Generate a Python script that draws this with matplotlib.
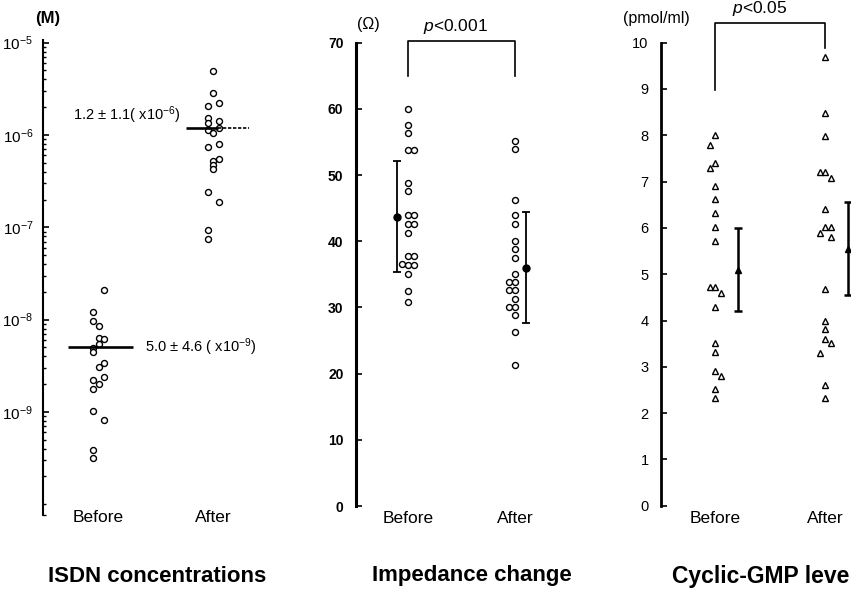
import matplotlib
matplotlib.use("Agg")
import matplotlib.pyplot as plt
import numpy as np
from matplotlib.ticker import FixedLocator, NullFormatter

plt.rcParams['font.family'] = ['Liberation Sans', 'DejaVu Sans']
plt.rcParams['mathtext.fontset'] = 'custom'
plt.rcParams['mathtext.rm'] = 'Liberation Sans'
plt.rcParams['mathtext.it'] = 'Liberation Sans:italic'
plt.rcParams['mathtext.bf'] = 'Liberation Sans:bold'
plt.rcParams['mathtext.default'] = 'regular'

# ---------------- data ----------------
groups = ["Before", "After"]
titles = ["ISDN concentrations", "Impedance change", "Cyclic-GMP leve"]
units = ["(M)", "(\u03a9)", "(pmol/ml)"]

isdn_before = [2.1e-8, 1.22e-8, 9.6e-9, 8.6e-9, 6.4e-9, 6.1e-9, 5.4e-9, 4.9e-9, 4.5e-9,
               3.4e-9, 3.1e-9, 2.4e-9, 2.2e-9, 2.0e-9, 1.78e-9, 1.03e-9, 8.1e-10, 3.9e-10, 3.2e-10]
isdn_after = [4.95e-6, 2.88e-6, 2.22e-6, 2.07e-6, 1.54e-6, 1.43e-6, 1.36e-6, 1.18e-6, 1.14e-6,
              1.06e-6, 7.9e-7, 7.5e-7, 5.5e-7, 5.2e-7, 4.7e-7, 4.25e-7, 2.4e-7, 1.9e-7, 9.3e-8, 7.5e-8]
isdn_mean = [5.0e-9, 1.2e-6]
isdn_labels = ["5.0 \u00b1 4.6 ( x10$^{-9}$)", "1.2 \u00b1 1.1( x10$^{-6}$)"]
isdn_major = [1e-9, 1e-8, 1e-7, 1e-6, 1e-5]
isdn_ticklabels = ["$10^{-9}$", "$10^{-8}$", "$10^{-7}$", "$10^{-6}$", "$10^{-5}$"]

imp_before = [60.0, 57.6, 56.4, 53.8, 53.8, 48.8, 47.6, 44.0, 44.0, 42.6, 42.6, 41.3,
              37.8, 37.8, 36.6, 36.4, 36.4, 35.0, 32.5, 30.8]
imp_after = [55.2, 54.0, 46.2, 43.9, 42.6, 40.0, 38.8, 37.5, 35.0, 33.9, 33.9, 32.6, 32.6,
             31.3, 30.1, 30.1, 28.9, 26.3, 21.3]
imp_mean = [43.7, 36.0]
imp_sd = [8.4, 8.35]
imp_p = "$\\it{p}$<0.001"

cgmp_before = [8.01, 7.79, 7.40, 7.29, 6.91, 6.62, 6.32, 6.01, 5.71, 4.72, 4.72, 4.60, 4.30,
               3.51, 3.31, 2.92, 2.80, 2.51, 2.32]
cgmp_after = [9.70, 8.48, 7.98, 7.20, 7.20, 7.07, 6.40, 6.02, 6.02, 5.89, 5.80, 4.69, 4.00,
              3.81, 3.59, 3.51, 3.29, 2.61, 2.32]
cgmp_mean = [5.1, 5.55]
cgmp_sd = [0.9, 1.0]
cgmp_p = "$\\it{p}$<0.05"

# ---------------- layout (jitter columns, not data) ----------------
isdn_before_cols = [1, -1, -1, 0, 0, 1, 0, -1, -1, 1, 0, 1, -1, 0, -1, -1, 1, -1, -1]
isdn_after_cols = [0, 0, 1, -1, -1, 1, -1, 1, -1, 0, 1, -1, 1, 0, 0, 0, -1, 1, -1, -1]
imp_before_cols = [0, 0, 0, 0, 1, 0, 0, 0, 1, 0, 1, 0, 0, 1, -1, 0, 1, 0, 0, 0]
imp_after_cols = [0, 0, 0, 0, 0, 0, 0, 0, 0, -1, 0, -1, 0, 0, -1, 0, 0, 0, 0]
cgmp_before_cols = [0, -1, 0, -1, 0, 0, 0, 0, 0, -1, 0, 1, 0, 0, 0, 0, 1, 0, 0]
cgmp_after_cols = [0, 0, 0, -1, 0, 1, 0, 0, 1, -1, 1, 0, 0, 0, 0, 1, -1, 0, 0]

W, H = 851, 592
fig = plt.figure(figsize=(W / 100, H / 100), dpi=100)


def add_ax(left, right, top, bottom):
    return fig.add_axes([left / W, 1 - bottom / H, (right - left) / W, (bottom - top) / H])


def style(ax, lw, pad):
    for s in ["top", "right", "bottom"]:
        ax.spines[s].set_visible(False)
    ax.spines["left"].set_linewidth(lw)
    ax.tick_params(axis="y", which="major", direction="in", length=4, width=1.2, pad=pad)
    ax.tick_params(axis="y", which="minor", direction="in", length=2.4, width=1.0)
    ax.tick_params(axis="x", length=0)
    ax.patch.set_alpha(0)


def xlabels(ax, top_px, bottom_px, axtop_px):
    h = bottom_px - axtop_px
    for i, g in enumerate(groups):
        ax.text(i, -(top_px - bottom_px) / h, g, transform=ax.get_xaxis_transform(),
                ha="center", va="top", fontsize=12.5, clip_on=False)


def fpx(x, y):
    return x / W, 1 - y / H


open_c = dict(marker="o", ls="none", mfc="white", mec="black", ms=4.3, mew=1.0, clip_on=False)
open_t = dict(marker="^", ls="none", mfc="white", mec="black", ms=4.8, mew=1.0, clip_on=False)

# ---------------- panel 1: ISDN ----------------
ax1 = add_ax(43, 290, 40, 515)
style(ax1, 1.5, 7)
ax1.set_yscale("log")
ax1.set_ylim(10 ** -10.116, 10 ** -4.971)
ax1.set_xlim(-0.485, 1.672)
step1 = 0.048
ax1.plot(0 + step1 * np.array(isdn_before_cols), isdn_before, **open_c)
ax1.plot(1 + step1 * np.array(isdn_after_cols), isdn_after, **open_c)
ax1.hlines(isdn_mean[0], -0.266, 0.30, color="black", lw=1.9)
ax1.hlines(isdn_mean[1], 0.764, 1.045, color="black", lw=1.9)
ax1.hlines(isdn_mean[1], 1.045, 1.314, color="black", lw=1.2, ls=(0, (2, 1)))
ax1.text(0.41, isdn_mean[0], isdn_labels[0], ha="left", va="center", fontsize=10.5)
ax1.text(1 - 0.28, isdn_mean[1] * 10 ** 0.13, isdn_labels[1], ha="right", va="center", fontsize=10.5)
ax1.yaxis.set_major_locator(FixedLocator(isdn_major))
ax1.set_yticklabels(isdn_ticklabels, fontsize=11)
lo, hi = ax1.get_ylim()
minor = [m * 10.0 ** d for d in range(-10, -5) for m in range(2, 10)] + [1e-10, lo]
ax1.yaxis.set_minor_locator(FixedLocator([v for v in minor if lo <= v <= hi]))
ax1.yaxis.set_minor_formatter(NullFormatter())
ax1.set_xticks([])
xlabels(ax1, 510, 515, 40)

# ---------------- panel 2: impedance ----------------
ax2 = add_ax(356, 580, 42.7, 506)
style(ax2, 2.2, 9)
ax2.set_ylim(0, 70)
ax2.set_xlim(-0.486, 1.607)
ax2.set_yticks(np.arange(0, 71, 10))
ax2.set_yticklabels([str(v) for v in range(0, 71, 10)], fontsize=10, fontweight="bold")
step2 = 0.056
ax2.plot(0 + step2 * np.array(imp_before_cols), imp_before, **open_c)
ax2.plot(1 + step2 * np.array(imp_after_cols), imp_after, **open_c)
ax2.errorbar([0 - 0.103, 1 + 0.103], imp_mean, yerr=imp_sd, fmt="o", color="black", ms=5,
             capsize=2.9, elinewidth=1.3, capthick=1.3, clip_on=False)
ax2.plot([0, 0, 1, 1], [64.9, 70.3, 70.3, 64.9], color="black", lw=1.2, clip_on=False)
ax2.text(0.44, 72.4, imp_p, ha="center", va="center", fontsize=12.5, clip_on=False)
ax2.set_xticks([])
xlabels(ax2, 511, 506, 42.7)

# ---------------- panel 3: cGMP ----------------
ax3 = add_ax(661, 851, 42.7, 505.7)
style(ax3, 2.0, 9)
ax3.set_ylim(0, 10)
ax3.set_xlim(-0.491, 1.236)
ax3.set_yticks(np.arange(0, 11, 1))
ax3.set_yticklabels([str(v) for v in range(0, 11)], fontsize=10.5)
step3 = 0.05
ax3.plot(0 + step3 * np.array(cgmp_before_cols), cgmp_before, **open_t)
ax3.plot(1 + step3 * np.array(cgmp_after_cols), cgmp_after, **open_t)
ax3.errorbar([0 + 0.21, 1 + 0.21], cgmp_mean, yerr=cgmp_sd, fmt="^", color="black", ms=5,
             capsize=2.9, elinewidth=1.8, capthick=1.8, clip_on=False)
ax3.plot([0, 0, 1, 1], [8.98, 10.43, 10.43, 9.89], color="black", lw=1.2, clip_on=False)
ax3.text(0.41, 10.73, cgmp_p, ha="center", va="center", fontsize=12.5, clip_on=False)
ax3.set_xticks([])
xlabels(ax3, 511, 505.7, 42.7)

# ---------------- unit labels & titles ----------------
fig.text(*fpx(48, 19), units[0], ha="center", va="center", fontsize=12, fontweight="bold")
fig.text(*fpx(368, 24), units[1], ha="center", va="center", fontsize=11.5)
fig.text(*fpx(656, 19), units[2], ha="center", va="center", fontsize=11.5)

fig.text(*fpx(157, 576), titles[0], ha="center", va="center", fontsize=16, fontweight="bold")
fig.text(*fpx(472, 576), titles[1], ha="center", va="center", fontsize=16, fontweight="bold")
fig.text(*fpx(672, 576), titles[2], ha="left", va="center", fontsize=16.5, fontweight="bold")

fig.savefig("out.png", dpi=100)
